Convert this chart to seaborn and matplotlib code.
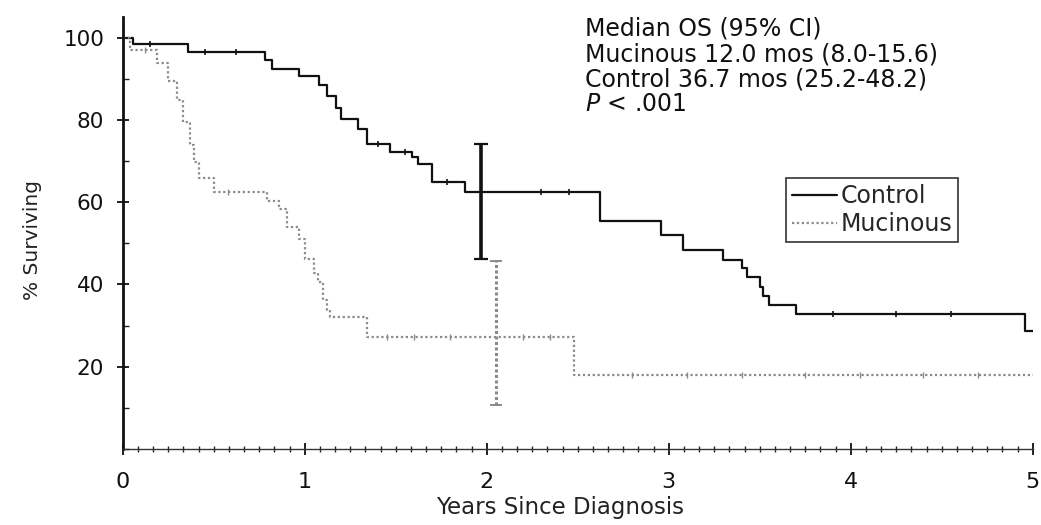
import numpy as np
import pandas as pd
import matplotlib
matplotlib.use('Agg')
import matplotlib.pyplot as plt
from matplotlib.ticker import MultipleLocator
import seaborn as sns

# Kaplan-Meier steps (years, % surviving)
control_t = [0, 0.055, 0.36, 0.78, 0.82, 0.97, 1.08, 1.12, 1.17, 1.20, 1.29, 1.34,
             1.47, 1.59, 1.62, 1.70, 1.88, 2.62, 2.96, 3.08, 3.30, 3.40, 3.43,
             3.50, 3.52, 3.55, 3.70, 4.96, 5.0]
control_s = [100, 98.4, 96.6, 94.5, 92.4, 90.7, 88.5, 85.9, 83.0, 80.2, 77.8, 74.1,
             72.2, 71.0, 69.3, 64.9, 62.4, 55.4, 52.0, 48.5, 46.0, 44.0, 41.7,
             39.3, 37.3, 35.1, 32.8, 28.8, 28.8]

mucinous_t = [0, 0.04, 0.19, 0.25, 0.30, 0.33, 0.37, 0.39, 0.42, 0.50, 0.79, 0.86,
              0.90, 0.97, 1.00, 1.05, 1.07, 1.10, 1.12, 1.14, 1.34, 2.48, 5.0]
mucinous_s = [100, 97.0, 94.0, 89.5, 85.0, 79.5, 74.0, 69.8, 66.0, 62.4, 60.2, 58.3,
              54.1, 51.0, 46.1, 42.9, 40.5, 36.3, 33.9, 32.0, 27.1, 18.0, 18.0]

# censor marks
control_cens = [0.15, 0.45, 0.62, 1.40, 1.55, 1.78, 2.30, 2.45, 3.90, 4.25, 4.55]
mucinous_cens = [0.12, 0.58, 1.45, 1.60, 1.80, 2.20, 2.35, 2.80, 3.10, 3.40, 3.75,
                 4.05, 4.40, 4.70]

# 95% CI bars at 2 years
ci_x = [1.97, 2.05]
ci_lo = [46.1, 10.7]
ci_hi = [74.1, 45.6]

groups = ['Control', 'Mucinous']
colors = {'Control': '#111111', 'Mucinous': '#8a8a8a'}

annot_lines = ['Median OS (95% CI)',
               'Mucinous 12.0 mos (8.0-15.6)',
               'Control 36.7 mos (25.2-48.2)']


def step_value(ts, ss, x):
    idx = np.searchsorted(ts, x, side='right') - 1
    return np.asarray(ss)[idx]


df = pd.concat([
    pd.DataFrame({'years': control_t, 'surv': control_s, 'group': 'Control'}),
    pd.DataFrame({'years': mucinous_t, 'surv': mucinous_s, 'group': 'Mucinous'}),
], ignore_index=True)

sns.set_theme(style='ticks')
plt.rcParams['font.family'] = ['DejaVu Sans']

fig = plt.figure(figsize=(10.41, 5.25), dpi=100)
ax = fig.add_axes([0.118, 0.145, 0.874, 0.822])

sns.lineplot(data=df, x='years', y='surv', hue='group', style='group',
             palette=colors, dashes={'Control': '', 'Mucinous': (1, 1.2)},
             estimator=None, sort=False, drawstyle='steps-post',
             linewidth=1.6, ax=ax, legend=True)

# censor ticks
ax.plot(control_cens, step_value(control_t, control_s, control_cens), ls='none',
        marker='|', ms=5, mew=1.2, color=colors['Control'])
ax.plot(mucinous_cens, step_value(mucinous_t, mucinous_s, mucinous_cens), ls='none',
        marker='|', ms=5, mew=1.0, color=colors['Mucinous'])

# confidence interval bars
ax.errorbar([ci_x[0]], [(ci_lo[0] + ci_hi[0]) / 2], yerr=[[(ci_hi[0] - ci_lo[0]) / 2]],
            fmt='none', ecolor=colors['Control'], elinewidth=2.6, capsize=5, capthick=1.6)
eb = ax.errorbar([ci_x[1]], [(ci_lo[1] + ci_hi[1]) / 2], yerr=[[(ci_hi[1] - ci_lo[1]) / 2]],
                 fmt='none', ecolor=colors['Mucinous'], elinewidth=2.2, capsize=4, capthick=1.4)
eb[2][0].set_linestyle((0, (1, 0.8)))

ax.set_xlim(0, 5.0)
ax.set_ylim(0, 105)
ax.set_xticks([0, 1, 2, 3, 4, 5])
ax.set_yticks([20, 40, 60, 80, 100])
ax.xaxis.set_minor_locator(MultipleLocator(1 / 12))
ax.yaxis.set_minor_locator(MultipleLocator(10))
ax.tick_params(axis='both', which='major', direction='inout', length=9, width=1.3,
               colors='#111111')
ax.tick_params(axis='x', which='major', pad=12, labelsize=16)
ax.tick_params(axis='y', which='major', pad=9, labelsize=15.5)
ax.tick_params(axis='x', which='minor', direction='inout', length=5, width=1.0,
               colors='#222222')
ax.tick_params(axis='y', which='minor', direction='in', length=4, width=1.0,
               colors='#222222')

sns.despine(ax=ax)
ax.spines['left'].set_linewidth(2.0)
ax.spines['bottom'].set_linewidth(1.0)
ax.spines['left'].set_color('#111111')
ax.spines['bottom'].set_color('#333333')
ax.set_facecolor('white')

ax.set_xlabel('Years Since Diagnosis', fontsize=16.5, color='#222222')
ax.set_ylabel('% Surviving', fontsize=14.5, color='#222222')
ax.xaxis.set_label_coords(0.481, -0.137)
ax.xaxis.label.set_va('center')
ax.yaxis.set_label_coords(-0.099, 0.484)
ax.yaxis.label.set_va('center')

# annotation block
y0 = 0.968
for i, line in enumerate(annot_lines):
    fig.text(0.562, y0 - i * 0.048, line, fontsize=17, color='#111111', va='top')
fig.text(0.562, y0 - 3 * 0.048, '$P$ < .001', fontsize=17, color='#111111', va='top')

leg = ax.legend(loc='upper left', bbox_to_anchor=(0.729, 0.628), fontsize=17,
                frameon=True, fancybox=False, framealpha=1, edgecolor='#333333',
                handlelength=1.9, handletextpad=0.15, borderpad=0.25, labelspacing=0.2,
                borderaxespad=0)
leg.get_frame().set_linewidth(1.2)

fig.savefig('out.png', dpi=100, facecolor='white')
